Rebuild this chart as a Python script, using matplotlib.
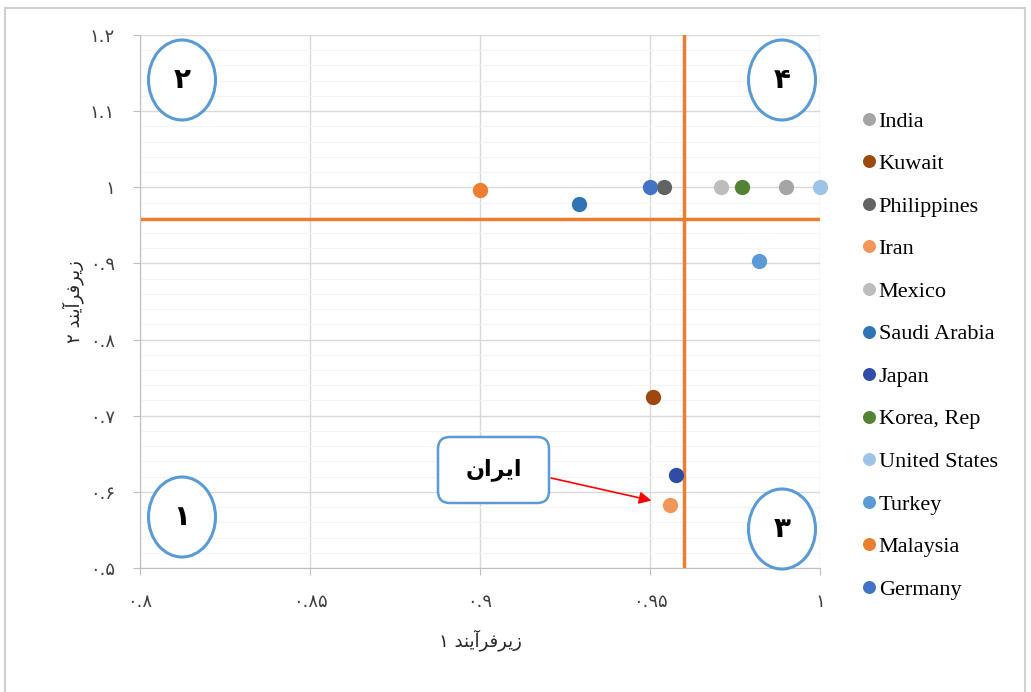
import matplotlib
matplotlib.use("Agg")
import matplotlib.pyplot as plt
import numpy as np
from matplotlib.patches import Ellipse, FancyBboxPatch, Rectangle
from matplotlib.transforms import IdentityTransform

# persian digits for tick labels
FA = str.maketrans("0123456789", "۰۱۲۳۴۵۶۷۸۹")

def to_fa(v):
    return ("%g" % v).translate(FA)

# countries in legend order
countries = ["India", "Kuwait", "Philippines", "Iran", "Mexico", "Saudi Arabia",
             "Japan", "Korea, Rep", "United States", "Turkey", "Malaysia", "Germany"]
sub1 = [0.990, 0.951, 0.954, 0.956, 0.971, 0.929, 0.9575, 0.977, 1.000, 0.982, 0.900, 0.950]
sub2 = [1.000, 0.725, 1.000, 0.583, 1.000, 0.978, 0.622, 1.000, 1.000, 0.903, 0.997, 1.000]
colors = ["#A5A5A5", "#9E480E", "#636363", "#F1975A", "#BDBDBD", "#2E75B6",
          "#2E4DA7", "#548235", "#9DC3E6", "#5B9BD5", "#ED7D31", "#4472C4"]

# quadrant threshold lines
thr_x = 0.960
thr_y = 0.958

x_ticks = [0.8, 0.85, 0.9, 0.95, 1.0]
y_ticks = [0.5, 0.6, 0.7, 0.8, 0.9, 1.0, 1.1, 1.2]

# pre-shaped RTL text (visual order, presentation forms)
word_sub = "\uFEAA\uFEE8\uFEF3\uFE81\uFEAE\uFED3\uFEAE\uFEF3\uFEAF"
xlabel = "۱ " + word_sub
ylabel = "۲ " + word_sub
iran_label = "\uFEE5\uFE8D\uFEAE\uFEF3\uFE8D"

W, H = 1031, 692
fig = plt.figure(figsize=(W / 100, H / 100), dpi=100)
ax = fig.add_axes([140 / W, 1 - 568 / H, 680 / W, 533 / H])

ax.set_xlim(0.8, 1.0)
ax.set_ylim(0.5, 1.2)

# gridlines
ax.set_yticks(np.arange(0.5, 1.2, 0.02), minor=True)
ax.grid(True, which="major", color="#D9D9D9", lw=1.0)
ax.grid(True, which="minor", axis="y", color="#F4F4F4", lw=0.8)
ax.set_axisbelow(True)
for s in ["top", "right"]:
    ax.spines[s].set_visible(False)
for s in ["left", "bottom"]:
    ax.spines[s].set_color("#BFBFBF")

ax.set_xticks(x_ticks)
ax.set_xticklabels([to_fa(v) for v in x_ticks])
ax.set_yticks(y_ticks)
ax.set_yticklabels([to_fa(v) for v in y_ticks])
ax.tick_params(which="major", length=5, color="#BFBFBF", labelsize=13, labelcolor="#404040", pad=13)
ax.tick_params(which="minor", length=0)

# threshold lines
ax.axhline(thr_y, color="#ED7D31", lw=2.5, zorder=2)
ax.axvline(thr_x, color="#ED7D31", lw=2.5, zorder=2)

for name, x, y, c in zip(countries, sub1, sub2, colors):
    ax.plot(x, y, "o", color=c, markersize=11, label=name, zorder=3,
            markeredgewidth=0, clip_on=False)

ax.set_xlabel(xlabel, fontsize=13, color="#262626", labelpad=13)
ax.set_ylabel(ylabel, fontsize=13, color="#262626", labelpad=4)

leg = ax.legend(loc="upper left", bbox_to_anchor=(842 / W, 1 - 91 / H),
                bbox_transform=fig.transFigure, frameon=False, handlelength=0.6,
                handletextpad=0.15, labelspacing=0.99, markerscale=0.85,
                prop={"family": "Liberation Serif", "size": 16})

# quadrant circles
ident = IdentityTransform()
for num, cx, cy in [("۲", 182, 80), ("۴", 782, 80), ("۱", 182, 517), ("۳", 782, 529)]:
    e = Ellipse((cx, H - cy), 67, 80, transform=ident, facecolor="white",
                edgecolor="#5B9BD5", lw=2.2, zorder=5)
    fig.patches.append(e)
    fig.text(cx / W, 1 - cy / H, num, ha="center", va="center", fontsize=20,
             fontweight="bold", zorder=6)

# Iran callout
box = FancyBboxPatch((438, H - 503), 111, 66, boxstyle="round,pad=0,rounding_size=12",
                     transform=ident, facecolor="white", edgecolor="#5B9BD5", lw=1.8, zorder=5)
fig.patches.append(box)
fig.text(493.5 / W, 1 - 470 / H, iran_label, ha="center", va="center", fontsize=16,
         fontweight="bold", zorder=6)
i = countries.index("Iran")
ax.annotate("", xy=(sub1[i], sub2[i]), xytext=(551, H - 478), textcoords="figure pixels",
            arrowprops=dict(arrowstyle="-|>", color="red", lw=1.2, shrinkA=0, shrinkB=14,
                            mutation_scale=18))

# outer frame
fig.patches.append(Rectangle((5, -10), 1020, H - 8 + 10, transform=ident,
                             facecolor="none", edgecolor="#D0D0D0", lw=1.5))

fig.savefig("out.png", dpi=100)
